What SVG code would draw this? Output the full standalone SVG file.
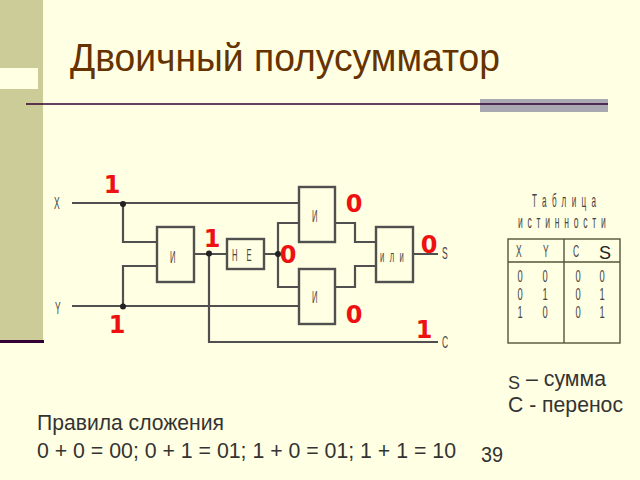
<svg xmlns="http://www.w3.org/2000/svg" width="640" height="480" viewBox="0 0 640 480">
<style>
.w{fill:none;stroke:#505050;stroke-width:2.2}
.b{fill:none;stroke:#505050;stroke-width:2.4}
.d{fill:#222}
.t{font-family:"Liberation Sans",Arial,sans-serif;fill:#444;font-size:17px}
.r{font-family:"DejaVu Sans",sans-serif;font-weight:bold;font-size:24px;fill:#ee1111;text-anchor:middle}
.k{font-family:"Liberation Sans",Arial,sans-serif;font-size:21.500px;fill:#333}
.h{fill:none;stroke:#55553a;stroke-width:1.4}
</style>
<rect width="640" height="480" fill="#ffffe3"/>
<g id="decor">
<rect x="0" y="0" width="43" height="341" fill="#cccc99"/>
<rect x="0" y="68" width="38" height="21" fill="#ffffe3"/>
<rect x="0" y="340" width="44" height="3" fill="#330033"/>
<rect x="480" y="99" width="128" height="13" fill="#a9a9b3"/>
<line x1="26" y1="104" x2="608" y2="104" stroke="#330033" stroke-width="1.6"/>
</g>
<text id="title" x="70" y="71" font-family="'Liberation Sans',Arial,sans-serif" font-size="38" fill="#663300" textLength="430" lengthAdjust="spacingAndGlyphs">Двоичный полусумматор</text>
<g id="connectors">
<path class="w" d="M72 203H299M123 203V242H157M123 306V266H157M72 306H299M194 254H227M209 254V342H438M264 254H278M299 223H278V287H299M335 223H355V242H376M335 287H355V266H376M413 254H438"/>
<circle class="d" cx="123" cy="204" r="3"/>
<circle class="d" cx="123" cy="306.500" r="3"/>
<circle class="d" cx="209" cy="253.500" r="3"/>
<circle class="d" cx="278" cy="254" r="3"/>
</g>
<g id="and1"><rect class="b" x="157" y="227" width="37" height="55"/><text class="t" transform="translate(170 263) scale(.45 1)">И</text></g>
<g id="not"><rect class="b" x="227" y="239" width="37" height="30"/><text class="t" transform="translate(232 261) scale(.45 1)" letter-spacing="20">НЕ</text></g>
<g id="and2"><rect class="b" x="299" y="187" width="36" height="55"/><text class="t" transform="translate(312 222) scale(.45 1)">И</text></g>
<g id="and3"><rect class="b" x="299" y="269" width="36" height="55"/><text class="t" transform="translate(312 303) scale(.45 1)">И</text></g>
<g id="or"><rect class="b" x="376" y="227" width="37" height="55"/><text class="t" transform="translate(380 262) scale(.45 1)" letter-spacing="12">или</text></g>
<g id="labels">
<text class="t" transform="translate(54 209) scale(.5 1)">X</text>
<text class="t" transform="translate(55 314) scale(.5 1)">Y</text>
<text class="t" transform="translate(442 259) scale(.5 1)">S</text>
<text class="t" transform="translate(442 348) scale(.5 1)">C</text>
<text class="r" x="112" y="193">1</text>
<text class="r" x="212" y="247">1</text>
<text class="r" x="117" y="333">1</text>
<text class="r" x="424" y="338">1</text>
<text class="r" x="354" y="212">0</text>
<text class="r" x="288" y="263">0</text>
<text class="r" x="429" y="253">0</text>
<text class="r" x="354" y="323">0</text>
</g>
<g id="table">
<rect class="h" x="508" y="239" width="112" height="104"/>
<line class="h" x1="508" y1="262" x2="620" y2="262"/>
<line class="h" x1="564" y1="239" x2="564" y2="343"/>
<text class="t" style="font-size:18px" transform="translate(532 207) scale(.45 1)" letter-spacing="12">Таблица</text>
<text class="t" style="font-size:19px" transform="translate(518 228) scale(.45 1)" letter-spacing="10.600">истинности</text>
<text class="t" transform="translate(516 257) scale(.5 1)">X</text>
<text class="t" transform="translate(543 257) scale(.5 1)">Y</text>
<text class="t" transform="translate(573 257) scale(.5 1)">C</text>
<g class="t" text-anchor="middle">
<text transform="translate(520 282) scale(.55 1)">0</text><text transform="translate(545 282) scale(.55 1)">0</text><text transform="translate(578 282) scale(.55 1)">0</text><text transform="translate(602 282) scale(.55 1)">0</text>
<text transform="translate(520 300) scale(.55 1)">0</text><text transform="translate(545 300) scale(.55 1)">1</text><text transform="translate(578 300) scale(.55 1)">0</text><text transform="translate(602 300) scale(.55 1)">1</text>
<text transform="translate(520 318) scale(.55 1)">1</text><text transform="translate(545 318) scale(.55 1)">0</text><text transform="translate(578 318) scale(.55 1)">0</text><text transform="translate(602 318) scale(.55 1)">1</text>
</g>
<text class="k" x="599" y="259" style="font-size:18px;fill:#222">S</text>
</g>
<g id="notes">
<text class="k" x="508" y="389" style="font-size:18px">S</text>
<text class="k" x="526" y="386" textLength="80" lengthAdjust="spacingAndGlyphs">– сумма</text>
<text class="k" x="508" y="411.500" textLength="115" lengthAdjust="spacingAndGlyphs">С - перенос</text>
<text class="k" x="37" y="430" textLength="187" lengthAdjust="spacingAndGlyphs">Правила сложения</text>
<text class="k" x="37" y="457.500" textLength="419" lengthAdjust="spacingAndGlyphs">0 + 0 = 00; 0 + 1 = 01; 1 + 0 = 01; 1 + 1 = 10</text>
<text class="k" x="481" y="462" textLength="22" lengthAdjust="spacingAndGlyphs">39</text>
</g>
</svg>
